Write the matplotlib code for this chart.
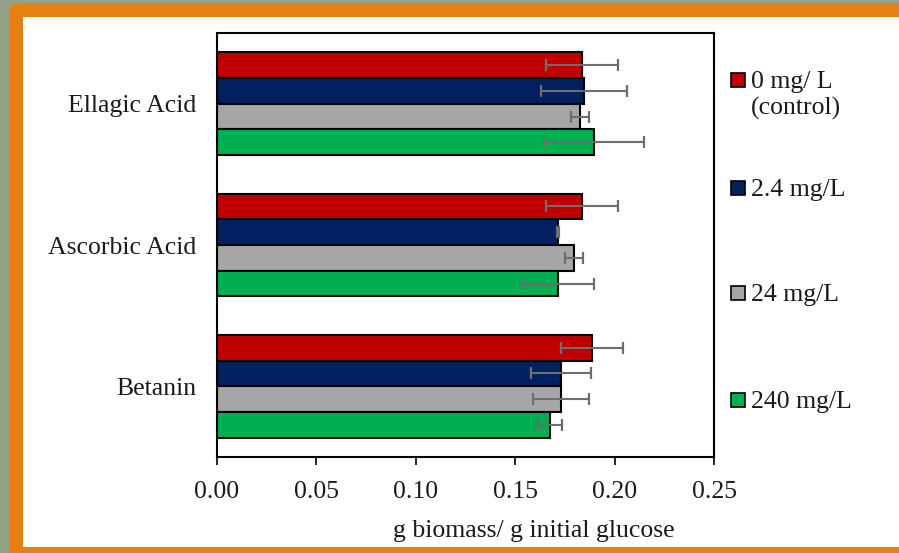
import matplotlib.pyplot as plt
import numpy as np
from matplotlib.patches import Rectangle, FancyBboxPatch

# --- Data ---
compounds = ["Ellagic Acid", "Ascorbic Acid", "Betanin"]
doses = ["0 mg/ L\n(control)", "2.4 mg/L", "24 mg/L", "240 mg/L"]
colors = ["#C00000", "#002060", "#A6A6A6", "#00B050"]

# g biomass / g initial glucose, one list per dose (compounds in order above)
yield_0 = [0.1836, 0.1836, 0.1886]
yield_2_4 = [0.1846, 0.1715, 0.1730]
yield_24 = [0.1826, 0.1796, 0.1730]
yield_240 = [0.1896, 0.1715, 0.1675]

err_0 = [0.0180, 0.0180, 0.0155]
err_2_4 = [0.0215, 0.0005, 0.0150]
err_24 = [0.0043, 0.0045, 0.0140]
err_240 = [0.0253, 0.0183, 0.0060]

values = [yield_0, yield_2_4, yield_24, yield_240]
errors = [err_0, err_2_4, err_24, err_240]

plt.rcParams['font.family'] = ['Liberation Serif', 'DejaVu Serif']
FS = 18.5
TXT = "#1A1A1A"

fig = plt.figure(figsize=(8.99, 5.53), dpi=100)
fig.patch.set_facecolor("#939F87")

# orange frame with white panel
fig.patches.append(FancyBboxPatch((9 / 899, -0.1), 1.2, 1.1 - 3 / 553,
                                  boxstyle="round,pad=0,rounding_size=0.015",
                                  transform=fig.transFigure, facecolor="#E68012",
                                  edgecolor="none", zorder=0))
fig.patches.append(Rectangle((23 / 899, 6 / 553), 1.0, 1 - 23 / 553,
                             transform=fig.transFigure, facecolor="white",
                             edgecolor="none", zorder=0))

ax = fig.add_axes([217 / 899, 96 / 553, 497 / 899, 424 / 553])
ax.set_zorder(2)
ax.set_facecolor("white")

centers = np.arange(len(compounds))[::-1].astype(float)
h = 0.182
offsets = [1.5 * h, 0.5 * h, -0.5 * h, -1.5 * h]

for vals, errs, col, off in zip(values, errors, colors, offsets):
    y = centers + off
    ax.barh(y, vals, height=h, color=col, edgecolor="black", linewidth=1.5, zorder=2)
    ax.errorbar(vals, y, xerr=errs, fmt="none", ecolor="#6E6E6E",
                elinewidth=1.5, capsize=4, capthick=1.6, zorder=3)

ax.set_xlim(0, 0.25)
ax.set_ylim(-0.5, 2.5)
ticks = np.arange(0, 0.2501, 0.05)
ax.set_xticks(ticks)
ax.set_xticklabels([f"{t:.2f}" for t in ticks], fontsize=FS, color=TXT)
ax.set_yticks(centers)
ax.set_yticklabels(compounds, fontsize=FS, color=TXT)
ax.tick_params(axis="y", length=0, pad=15)
ax.tick_params(axis="x", length=6, width=1.2, direction="out", pad=11)
for s in ax.spines.values():
    s.set_linewidth(1.5)
    s.set_color("black")

fig.text(534 / 899, 22 / 553, "g biomass/ g initial glucose", fontsize=FS,
         ha="center", va="center", color=TXT)

# legend drawn by hand so the square sits beside the first line
leg_y = [80, 188, 293, 400]
for lab, col, yp in zip(doses, colors, leg_y):
    fig.patches.append(Rectangle((731 / 899, (553 - yp - 7) / 553), 14 / 899, 14 / 553,
                                 transform=fig.transFigure, facecolor=col,
                                 edgecolor="black", linewidth=1.2, zorder=3))
    for k, line in enumerate(lab.split("\n")):
        fig.text(751 / 899, (553 - yp - 8 - 27 * k) / 553, line, fontsize=FS,
                 ha="left", va="baseline", color=TXT)

fig.savefig("out.png", dpi=100, facecolor=fig.get_facecolor())
